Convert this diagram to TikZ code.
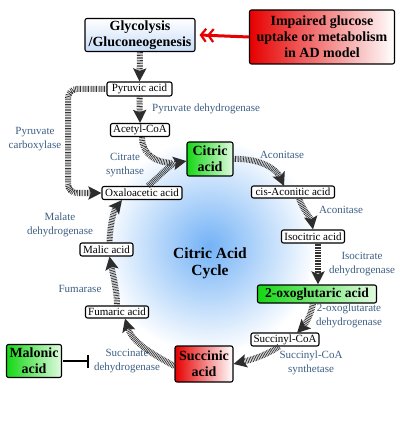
\documentclass[tikz,border=0pt]{standalone}
\usepackage{fontspec}
\setmainfont{Liberation Serif}
\usetikzlibrary{arrows.meta}
\definecolor{lbl}{RGB}{62,95,132}
\definecolor{tipc}{RGB}{45,45,45}
\definecolor{gr}{RGB}{20,215,20}
\definecolor{grl}{RGB}{225,250,225}
\definecolor{rd}{RGB}{230,0,0}
\definecolor{glow}{RGB}{115,178,246}
\definecolor{lblue}{RGB}{200,222,248}
\tikzset{
  box/.style={draw=black, line width=1.1pt, rounded corners=2pt, fill=white, inner sep=0pt,
    font=\rmfamily\fontsize{11}{12}\selectfont, align=center},
  bigbox/.style={box, font=\rmfamily\fontsize{14}{16}\selectfont\bfseries},
  greenbox/.style={bigbox, left color=gr, right color=grl},
  redbox/.style={bigbox, left color=rd, right color=white},
  lab/.style={text=lbl, font=\rmfamily\fontsize{11}{14}\selectfont, align=center, inner sep=0pt},
  flux/.style={line width=6pt, dash pattern=on 0.7pt off 0.9pt, black!80,
    -{Stealth[length=13pt,width=13pt,inset=2.5pt,color=tipc]}},
  fluxn/.style={line width=6pt, dash pattern=on 0.7pt off 0.9pt, black!80},
}
\begin{document}
\begin{tikzpicture}[x=1pt,y=-1pt]
\useasboundingbox (0,0) rectangle (407,430);
\fill[white] (0,0) rectangle (407,430);
\shade[inner color=glow, outer color=white] (209,246) circle (108);

\node[bigbox, top color=white, bottom color=lblue, minimum width=110pt, minimum height=33pt] (glyc) at (140,35) {Glycolysis\\/Gluconeogenesis};
\node[redbox, minimum width=145pt, minimum height=54pt] (imp) at (322,37) {Impaired glucose\\uptake or metabolism\\in AD model};
\node[box, minimum width=65pt, minimum height=14pt] (pyr) at (139.5,89) {Pyruvic acid};
\node[box, minimum width=59pt, minimum height=13pt] (acet) at (140,130) {Acetyl-CoA};
\node[box, minimum width=80pt, minimum height=13pt] (oxa) at (142,193) {Oxaloacetic acid};
\node[greenbox, minimum width=46pt, minimum height=34pt] (cit) at (210,159) {Citric\\acid};
\node[box, minimum width=83pt, minimum height=12pt] (cis) at (293,192) {cis-Aconitic acid};
\node[box, minimum width=63pt, minimum height=13pt] (iso) at (313,236.5) {Isocitric acid};
\node[greenbox, font=\rmfamily\fontsize{13.5}{15}\selectfont\bfseries, minimum width=119pt, minimum height=18pt] (oxo) at (317,294) {2-oxoglutaric acid};
\node[box, minimum width=68pt, minimum height=13pt] (scoa) at (285,339.5) {Succinyl-CoA};
\node[redbox, minimum width=58pt, minimum height=36pt] (suc) at (204,364) {Succinic\\acid};
\node[box, minimum width=63pt, minimum height=12pt] (fum) at (117,312) {Fumaric acid};
\node[box, minimum width=53pt, minimum height=13pt] (mal) at (106.5,249.5) {Malic acid};
\node[greenbox, minimum width=55pt, minimum height=33pt] (malo) at (34,361) {Malonic\\acid};

\node[font=\rmfamily\fontsize{15.5}{17}\selectfont\bfseries, align=center] (cyc) at (210,263) {Citric Acid\\Cycle};

\node[lab, anchor=west] (l1) at (152,109) {Pyruvate dehydrogenase};
\node[lab] (l2) at (35,139) {Pyruvate\\carboxylase};
\node[lab] (l3) at (125,165) {Citrate\\synthase};
\node[lab] (l4) at (282,155) {Aconitase};
\node[lab] (l5) at (341,210) {Aconitase};
\node[lab] (l6) at (362,264) {Isocitrate\\dehydrogenase};
\node[lab] (l7) at (349,316) {2-oxoglutarate\\dehydrogenase};
\node[lab] (l8) at (311,363) {Succinyl-CoA\\synthetase};
\node[lab] (l9) at (127,361) {Succinate\\dehydrogenase};
\node[lab] (l10) at (80,289) {Fumarase};
\node[lab] (l11) at (60,225) {Malate\\dehydrogenase};

% connectors
\draw[flux] (glyc.south) -- (pyr.north);
\draw[flux] (pyr.south) -- (acet.north);
\draw[flux, rounded corners=9pt] (pyr.west) -- (68,89) -- (68,193) -- (oxa.west);
\coordinate (citin) at ([yshift=-2pt]cit.west);
\draw[fluxn] ([xshift=2pt]acet.south) .. controls (142,152) and (152,162) .. (172,163);
\draw[flux] ([xshift=6pt]oxa.north) .. controls (160,176) and (170,164) .. (citin);
\draw[flux] (cit.east) .. controls (258,158) and (276,168) .. (284,186);
\draw[flux] ([xshift=6pt]cis.south) .. controls (304,212) and (311,218) .. (iso.north);
\draw[flux] ([xshift=5pt]iso.south) -- ([xshift=1pt]oxo.north);
\draw[flux] ([xshift=-4pt]oxo.south) .. controls (311,316) and (304,326) .. (297,333);
\draw[flux] ([xshift=-6pt]scoa.south) .. controls (265,356) and (250,360) .. (suc.east);
\draw[flux] ([yshift=-2pt]suc.west) .. controls (152,354) and (132,342) .. ([xshift=8pt]fum.south);
\draw[flux] (fum.north) .. controls (117,290) and (113,275) .. ([xshift=3pt]mal.south);
\draw[flux] ([xshift=3pt]mal.north) .. controls (110,224) and (114,210) .. ([xshift=-20pt]oxa.south);

\draw[rd, line width=3pt, -{Straight Barb[length=5pt,width=13pt,line width=2.2pt] Straight Barb[length=5pt,width=13pt,line width=2.2pt]}] (imp.west) -- ([xshift=4pt]glyc.east);
\draw[black, line width=2.2pt, -{Bar[width=13pt,line width=2.5pt]}] ([xshift=1pt]malo.east) -- (89,361);
\end{tikzpicture}
\end{document}
